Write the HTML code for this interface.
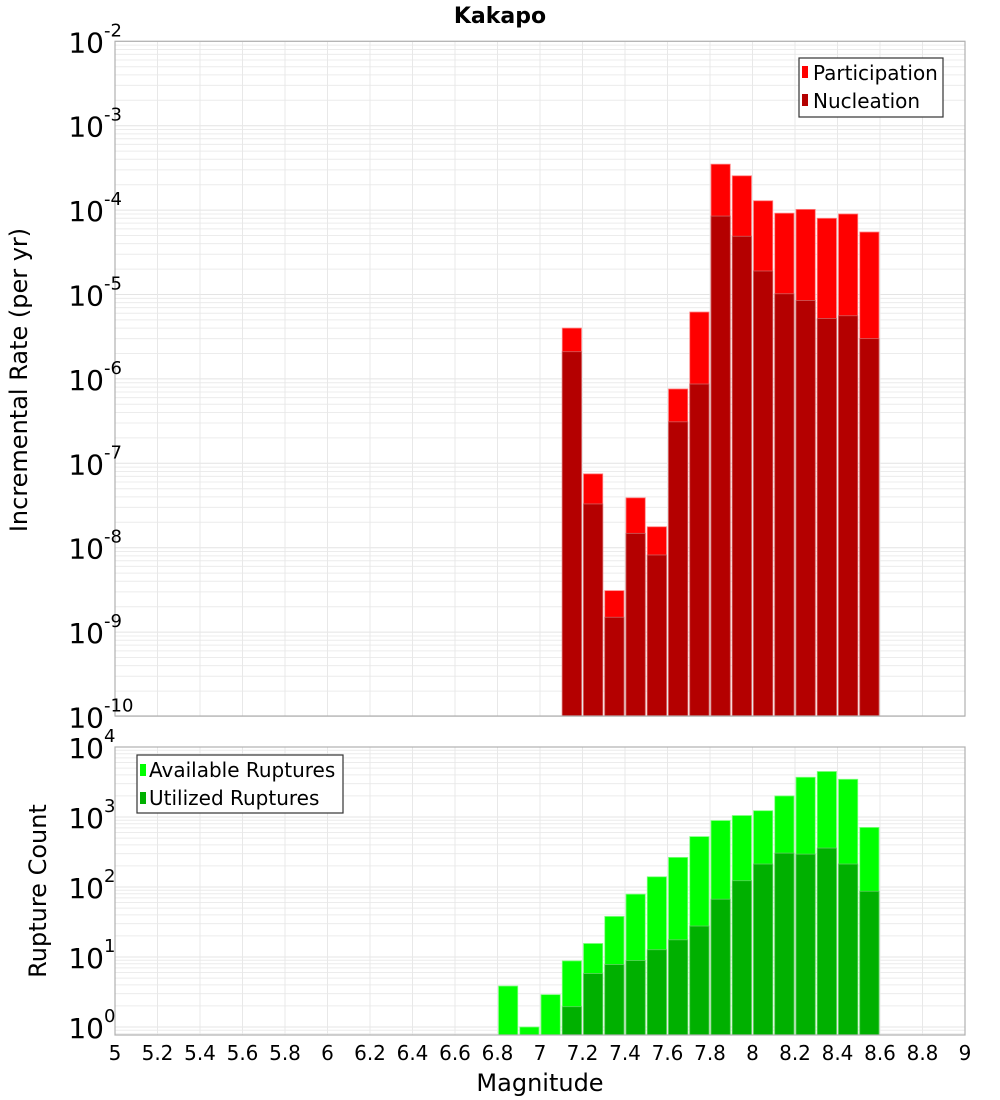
<!DOCTYPE html>
<html><head><meta charset="utf-8">
<style>
html,body{margin:0;padding:0;background:#fff;}
svg{display:block;font-family:"DejaVu Sans","Liberation Sans",sans-serif;}
</style></head>
<body>
<svg id="chart" width="1000" height="1100" viewBox="0 0 1000 1100" xmlns="http://www.w3.org/2000/svg">
<text x="500" y="23" text-anchor="middle" font-size="22" font-weight="bold">Kakapo</text>
<g id="topG"></g>
<g id="botG"></g>
<text x="540" y="1091" text-anchor="middle" font-size="24">Magnitude</text>
<text transform="translate(27,380) rotate(-90)" text-anchor="middle" font-size="24">Incremental Rate (per yr)</text>
<text transform="translate(46,891) rotate(-90)" text-anchor="middle" font-size="24">Rupture Count</text>
</svg>
<script>
const mags = [6.8,6.9,7.0,7.1,7.2,7.3,7.4,7.5,7.6,7.7,7.8,7.9,8.0,8.1,8.2,8.3,8.4,8.5];
const participation = [0,0,0,4.0e-6,7.5e-8,3.1e-9,3.9e-8,1.77e-8,7.6e-7,6.2e-6,3.5e-4,2.55e-4,1.29e-4,9.2e-5,1.02e-4,8.0e-5,9.0e-5,5.5e-5];
const nucleation = [0,0,0,2.1e-6,3.3e-8,1.5e-9,1.48e-8,8.2e-9,3.1e-7,8.7e-7,8.5e-5,4.9e-5,1.9e-5,1.02e-5,8.5e-6,5.2e-6,5.6e-6,3.0e-6];
const available = [3.85,1.0,2.9,8.8,15.6,38,79,140,265,525,890,1050,1230,2000,3700,4470,3460,710];
const utilized = [0,0,0,1.95,5.8,7.8,8.9,12.7,17.6,27.7,67,123,213,305,295,360,213,87];
const xTicks = [5,5.2,5.4,5.6,5.8,6,6.2,6.4,6.6,6.8,7,7.2,7.4,7.6,7.8,8,8.2,8.4,8.6,8.8,9];
const topExps = [-10,-9,-8,-7,-6,-5,-4,-3,-2];
const botExps = [0,1,2,3,4];

const NS="http://www.w3.org/2000/svg";
function el(parent,tag,attrs,text){const e=document.createElementNS(NS,tag);for(const k in attrs)e.setAttribute(k,attrs[k]);if(text!==undefined)e.textContent=text;parent.appendChild(e);return e;}
const X0=115,X1=965;
const xs=m=>X0+(m-5)/(9-5)*(X1-X0);
const yTop=v=>41.3+(-2-Math.log10(v))*84.4;
const TOP_B=716;
const yBot=v=>747+(4-Math.log10(v))*70;
const BOT_B=1035;

function grid(g,yfun,exps,yT,yB){
  for(let i=0;i<exps.length;i++){
    const e=exps[i];
    for(let k=1;k<10;k++){
      const y=yfun(k*Math.pow(10,e));
      if(y<yT-0.5||y>yB+0.5)continue;
      const l=el(g,'line',{x1:X0,x2:X1,y1:y,y2:y,stroke:k==1?'#e4e4e4':'#ececec','stroke-width':1});
      
      
    }
  }
  for(const t of xTicks){
    const l=el(g,'line',{x1:xs(t),x2:xs(t),y1:yT,y2:yB,stroke:'#e8e8e8','stroke-width':1});
    
    
  }
}
function ylabels(g,yfun,exps){
  for(const e of exps){
    const y=yfun(Math.pow(10,e));
    const t=el(g,'text',{x:104,y:y+11,'text-anchor':'end','font-size':28},'10');
    
    
    const s=el(g,'text',{x:104,y:y-5,'font-size':18},String(e));
    
    
  }
}
function bars(g,vals,yfun,base,fill,edge,name){
  const w=xs(5.1)-xs(5);
  for(let i=0;i<mags.length;i++){
    if(!(vals[i]>0))continue;
    const y=yfun(vals[i]);
    const r=el(g,'rect',{x:xs(mags[i])+1,y:y,width:w-2,height:base-y,fill:fill,stroke:edge,'stroke-width':0.8});
    
    
  }
}
const topG=document.getElementById('topG');
grid(topG,yTop,topExps,41.3,TOP_B);
bars(topG,participation,yTop,TOP_B,'#ff0000','#ff8080','participation-bar');
bars(topG,nucleation,yTop,TOP_B,'#b40000','#d06060','nucleation-bar');
el(topG,'rect',{x:X0,y:41.3,width:X1-X0,height:TOP_B-41.3,fill:'none',stroke:'#b0b0b0','stroke-width':1.2});
ylabels(topG,yTop,topExps);
const lg=el(topG,'g',{});


el(lg,'rect',{x:799,y:58,width:144,height:59,fill:'#fff',stroke:'#333','stroke-width':1.2});
el(lg,'rect',{x:802,y:66,width:6,height:12,fill:'#ff0000'});
el(lg,'text',{x:813,y:80,'font-size':20},'Participation');
el(lg,'rect',{x:802,y:94,width:6,height:12,fill:'#b40000'});
el(lg,'text',{x:813,y:108,'font-size':20},'Nucleation');
const botG=document.getElementById('botG');
grid(botG,yBot,[-1,0,1,2,3],747,BOT_B);
bars(botG,available,yBot,BOT_B,'#00ff00','#80ff80','available-bar');
bars(botG,utilized,yBot,BOT_B,'#00b000','#60d060','utilized-bar');
el(botG,'rect',{x:X0,y:747,width:X1-X0,height:BOT_B-747,fill:'none',stroke:'#b0b0b0','stroke-width':1.2});
ylabels(botG,yBot,botExps);
const lb=el(botG,'g',{});


el(lb,'rect',{x:137,y:755,width:206,height:58,fill:'#fff',stroke:'#333','stroke-width':1.2});
el(lb,'rect',{x:140,y:764,width:6,height:12,fill:'#00ff00'});
el(lb,'text',{x:149,y:777,'font-size':20},'Available Ruptures');
el(lb,'rect',{x:140,y:792,width:6,height:12,fill:'#00b000'});
el(lb,'text',{x:149,y:805,'font-size':20},'Utilized Ruptures');
for(const t of xTicks){
  const tx=el(botG,'text',{x:xs(t),y:1060,'text-anchor':'middle','font-size':20},String(t));
  
  
}
</script>
</body></html>
